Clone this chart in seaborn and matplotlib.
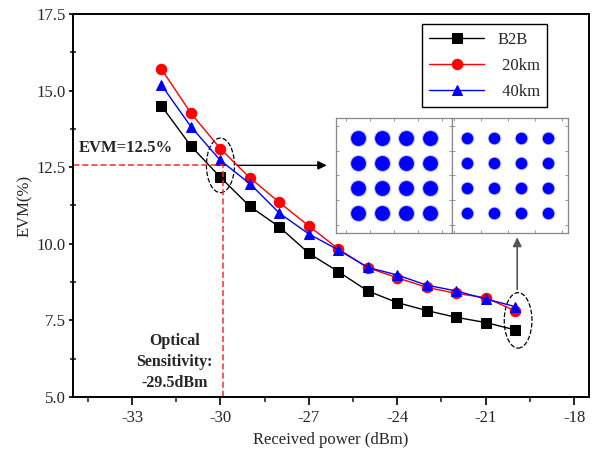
import numpy as np
import pandas as pd
import matplotlib
matplotlib.use("Agg")
import matplotlib.pyplot as plt
from matplotlib.patches import Ellipse
import seaborn as sns

# received power (dBm) and EVM (%)
power = [-32, -31, -30, -29, -28, -27, -26, -25, -24, -23, -22, -21, -20]
evm_b2b = [14.5, 13.19, 12.17, 11.22, 10.55, 9.69, 9.09, 8.46, 8.08, 7.82, 7.6, 7.43, 7.19]
evm_20km = [15.7, 14.26, 13.1, 12.15, 11.35, 10.58, 9.83, 9.22, 8.89, 8.58, 8.38, 8.24, 7.81]
evm_40km = [15.18, 13.82, 12.72, 11.96, 11.0, 10.32, 9.8, 9.23, 8.98, 8.65, 8.46, 8.2, 7.95]

series_names = ["B2B", "20km", "40km"]
legend_labels = ["B2B", " 20km", " 40km"]
series_colors = ["black", "#ff0000", "#0000ff"]
series_markers = ["s", "o", "^"]

# 16-QAM constellation levels for the two insets
levels = [-3, -1, 1, 3]

evm_limit = 12.56
sens_power = -29.9

sns.set_style("ticks")
plt.rcParams["font.family"] = ["Liberation Serif", "DejaVu Serif"]

fig = plt.figure(figsize=(6.14, 4.54), dpi=100)
ax = fig.add_axes([0.119, 0.1256, 0.840, 0.8436])

df = pd.DataFrame({"power": power, "B2B": evm_b2b, "20km": evm_20km, "40km": evm_40km})

for name, lab, col, mk in zip(series_names, legend_labels, series_colors, series_markers):
    sns.lineplot(data=df, x="power", y=name, ax=ax, color=col, marker=mk,
                 markersize=7.5 if mk != "s" else 6.5, markeredgecolor=col,
                 linewidth=1.0, label=lab)

# threshold guide lines
ax.plot([-35, sens_power], [evm_limit, evm_limit], color="#ff2a2a", ls="--", lw=1.1, dashes=(4, 2))
ax.plot([sens_power, sens_power], [5, evm_limit], color="#ff2a2a", ls="--", lw=1.1, dashes=(4, 2))

# dashed ellipses around the points of interest
ax.add_patch(Ellipse((-30.0, 12.56), 0.95, 1.78, fill=False, ls="--", lw=0.9, ec="black"))
ax.add_patch(Ellipse((-19.9, 7.5), 0.94, 1.81, fill=False, ls="--", lw=0.9, ec="black"))

ax.annotate("", xy=(-26.3, 12.56), xytext=(-29.52, 12.56),
            arrowprops=dict(arrowstyle="-|>", color="black", lw=1.0, mutation_scale=13))
ax.annotate("", xy=(-19.93, 10.3), xytext=(-19.93, 8.42),
            arrowprops=dict(arrowstyle="-|>", color="#555555", lw=1.2, mutation_scale=13))

ax.text(-34.8, 13.13, "EVM=12.5%", fontsize=12, fontweight="bold", ha="left", va="center")
ax.text(-31.55, 6.14, "Optical\nSensitivity:\n-29.5dBm", fontsize=11.5, fontweight="bold",
        ha="center", va="center", multialignment="center", linespacing=1.45)

ax.set_xlim(-35, -17.5)
ax.set_ylim(5, 17.5)
ax.set_xticks([-33, -30, -27, -24, -21, -18])
ax.set_xticks(np.arange(-34.5, -17.5, 1.5), minor=True)
ax.set_yticks([5.0, 7.5, 10.0, 12.5, 15.0, 17.5])
ax.set_yticks(np.arange(5.0, 17.6, 1.25), minor=True)
ax.yaxis.set_major_formatter(matplotlib.ticker.FormatStrFormatter("%.1f"))
ax.set_xticklabels(["-33", "-30", "-27", "-24", "-21", "-18"])
ax.tick_params(axis="both", which="major", labelsize=12, direction="out", width=1.2, color="black")
ax.tick_params(axis="x", which="major", length=5.5, pad=4)
ax.tick_params(axis="y", which="major", length=3, pad=2.5)
ax.tick_params(axis="x", which="minor", length=3.5, width=1.2, direction="out")
ax.tick_params(axis="y", which="minor", length=4, width=1.2, direction="inout")
for sp in ax.spines.values():
    sp.set_visible(True)
    sp.set_linewidth(1.4)
    sp.set_color("black")

ax.set_xlabel("Received power (dBm)", fontsize=12, labelpad=4)
ax.set_ylabel("EVM(%)", fontsize=12, labelpad=2)

leg = ax.legend(loc="upper left", bbox_to_anchor=(0.687, 0.947), bbox_transform=fig.transFigure,
                fontsize=12, frameon=True, fancybox=False, edgecolor="black", framealpha=1,
                handlelength=3.3, labelspacing=0.6, borderpad=0.45, handletextpad=0.8,
                borderaxespad=0)
leg.get_frame().set_linewidth(1.0)

# constellation insets
inset_specs = [
    ([0.547, 0.487, 0.189, 0.253], (-4.8, 4.8), 115),
    ([0.736, 0.487, 0.189, 0.253], (-4.15, 4.45), 70),
]
gx, gy = np.meshgrid(levels, levels)
for rect, xl, size in inset_specs:
    axi = fig.add_axes(rect)
    axi.set_facecolor("white")
    axi.scatter(gx.ravel(), gy.ravel(), s=size * 1.35, color="#0000ff", alpha=0.22, linewidths=0)
    axi.scatter(gx.ravel(), gy.ravel(), s=size, color="#0000ff", linewidths=0)
    axi.set_xlim(*xl)
    axi.set_ylim(-4.6, 4.6)
    axi.set_xticks([-4, -2, 0, 2, 4])
    axi.set_yticks([-4, -2, 0, 2, 4])
    axi.tick_params(which="both", direction="in", length=2, width=0.6, color="#888888",
                    labelbottom=False, labelleft=False, top=True, right=True)
    for sp in axi.spines.values():
        sp.set_color("#888888")
        sp.set_linewidth(0.9)

fig.savefig("out.png", dpi=100)
